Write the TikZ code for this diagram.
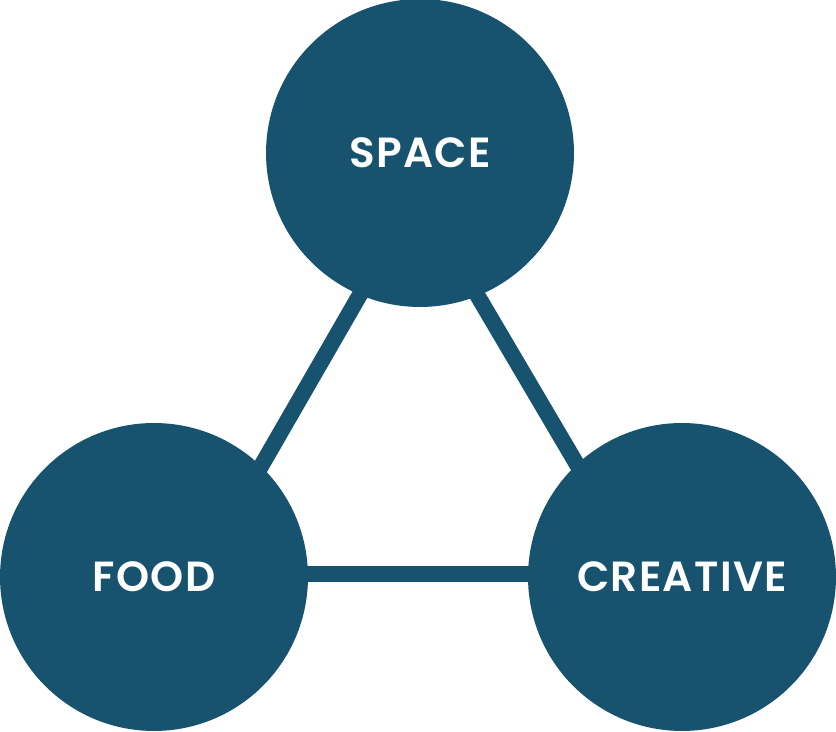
\documentclass[tikz,border=0pt]{standalone}
\usepackage{fontspec}
\usetikzlibrary{backgrounds}
\newfontfamily\labelfont{Poppins SemiBold}[LetterSpace=3]
\definecolor{petrole}{RGB}{23,83,111}

\begin{document}
\begin{tikzpicture}[x=0.02cm,y=-0.02cm]
 \useasboundingbox (0,0) rectangle (836,732);

	% Cercles
 \tikzset{rond/.style={circle, fill=petrole, minimum size=6.16cm, inner sep=0pt, text=white, font=\labelfont\fontsize{24}{28}\selectfont},
  liaison/.style={line width=0.32cm, petrole, shorten <=-0.4cm, shorten >=-0.4cm}}
 \node[rond] (space) at (420,153) {SPACE};
 \node[rond] (food) at (154,577) {FOOD};
 \node[rond] (creative) at (682,577) {CREATIVE};

	% Liaisons
 \begin{scope}[on background layer]
 \draw[liaison] (space.247)--(food.46);
 \draw[liaison] (space.292)--(creative.133);
 \draw[liaison] (food.1)--(creative.179);
 \end{scope}

\end{tikzpicture}
\end{document}
